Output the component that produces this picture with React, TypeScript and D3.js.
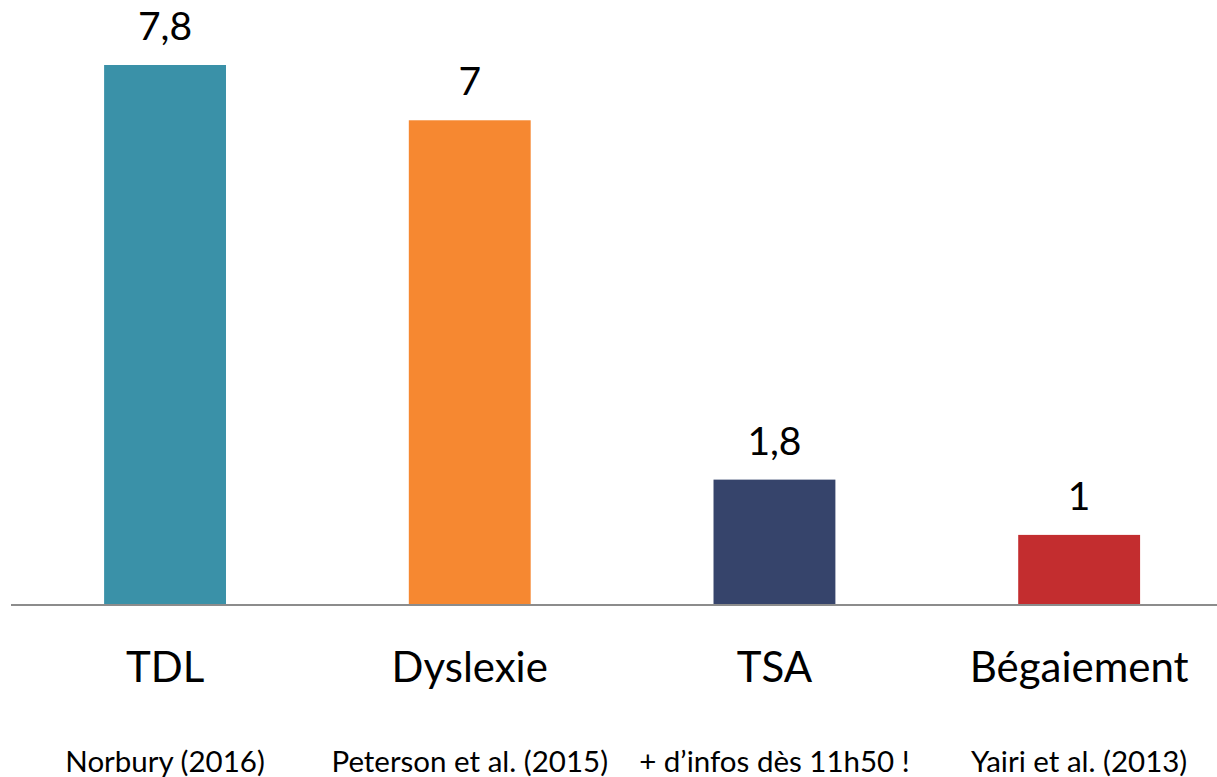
import React from "react";
import * as d3 from "d3";

const categories = ["TDL", "Dyslexie", "TSA", "Bégaiement"];
const values = [7.8, 7, 1.8, 1];
const valueLabels = ["7,8", "7", "1,8", "1"];
const sources = ["Norbury (2016)", "Peterson et al. (2015)", "+ d’infos dès 11h50 !", "Yairi et al. (2013)"];
const colors = ["#3a91a8", "#f68831", "#36446b", "#c32d2f"];

const width = 1217;
const height = 777;
const baseline = 604;
const font = "Lato, 'Open Sans', sans-serif";

const App = () => {
  const x = d3
    .scaleBand<string>()
    .domain(categories)
    .range([12.7, 1231.5])
    .paddingInner(0.6)
    .paddingOuter(0.3);

  const y = d3
    .scaleLinear()
    .domain([0, d3.max(values) as number])
    .range([baseline, 65]);

  return (
    <svg
      width={width}
      height={height}
      style={{ position: "fixed", left: 0, top: 0, background: "#fff" }}
    >
      {categories.map((c, i) => (
        <rect
          key={c}
          x={x(c)}
          y={y(values[i])}
          width={x.bandwidth()}
          height={baseline - y(values[i])}
          fill={colors[i]}
        />
      ))}
      <line x1={11} x2={width} y1={baseline + 1} y2={baseline + 1} stroke="#8c8c8c" strokeWidth={2} />
      {categories.map((c, i) => {
        const cx = (x(c) as number) + x.bandwidth() / 2;
        return (
          <g key={"t" + c} fontFamily={font} textAnchor="middle" fill="#000">
            <text x={cx} y={y(values[i]) - 25} fontSize={39}>
              {valueLabels[i]}
            </text>
            <text x={cx} y={682} fontSize={42}>
              {c}
            </text>
            <text x={cx} y={772} fontSize={29.5}>
              {sources[i]}
            </text>
          </g>
        );
      })}
    </svg>
  );
};

export default App;
